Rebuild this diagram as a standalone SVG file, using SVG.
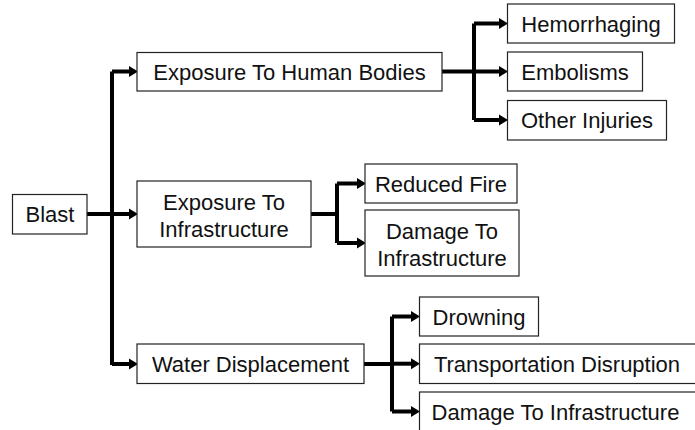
<svg xmlns="http://www.w3.org/2000/svg" width="695" height="430" viewBox="0 0 695 430">
<defs>
<marker id="ah" markerUnits="userSpaceOnUse" markerWidth="10" markerHeight="12" viewBox="0 0 10 12" refX="2" refY="6" orient="auto">
<path d="M0,0.5 L9,6 L0,11.5 z" fill="#000"/>
</marker>
<style>
.box{fill:#fff;stroke:#222;stroke-width:1.2}
.t{font-family:"Liberation Sans",Arial,sans-serif;font-size:22px;fill:#111;text-anchor:middle}
.c{fill:none;stroke:#000;stroke-width:4;stroke-linejoin:miter}
.a{marker-end:url(#ah)}
</style>
</defs>
<rect width="695" height="430" fill="#fff"/>
<g id="connectors">
<path class="c" d="M87,214 H112"/>
<path class="c" d="M112,71.5 V365"/>
<path class="c a" d="M112,71.5 H131"/>
<path class="c a" d="M112,214 H131"/>
<path class="c a" d="M112,364 H131"/>
<path class="c" d="M442,71.5 H474"/>
<path class="c" d="M474,23.5 V120"/>
<path class="c a" d="M474,23.5 H501"/>
<path class="c a" d="M474,71.5 H501"/>
<path class="c a" d="M474,120 H501"/>
<path class="c" d="M311,214 H337"/>
<path class="c" d="M337,183.5 V243"/>
<path class="c a" d="M337,183.5 H359"/>
<path class="c a" d="M337,243 H359"/>
<path class="c" d="M364,364 H392"/>
<path class="c" d="M392,316.5 V411.5"/>
<path class="c a" d="M392,316.5 H413"/>
<path class="c a" d="M392,363.7 H413"/>
<path class="c a" d="M392,411.5 H413"/>
</g>
<g id="blast"><rect class="box" x="12.5" y="194.5" width="74.5" height="39.5"/><text class="t" x="50" y="222">Blast</text></g>
<g id="human"><rect class="box" x="137" y="52.5" width="305" height="38.5"/><text class="t" x="289.5" y="79.5">Exposure To Human Bodies</text></g>
<g id="infra"><rect class="box" x="137" y="181" width="174" height="66"/><text class="t" x="224" y="210">Exposure To</text><text class="t" x="224" y="236.5">Infrastructure</text></g>
<g id="water"><rect class="box" x="137" y="344" width="227" height="39.5"/><text class="t" x="250.5" y="372">Water Displacement</text></g>
<g id="hemorrhaging"><rect class="box" x="507.5" y="4" width="167" height="39"/><text class="t" x="591" y="31.5">Hemorrhaging</text></g>
<g id="embolisms"><rect class="box" x="507.5" y="52" width="135" height="39"/><text class="t" x="575" y="79.5">Embolisms</text></g>
<g id="other"><rect class="box" x="507.5" y="100.5" width="159" height="39.5"/><text class="t" x="587" y="128">Other Injuries</text></g>
<g id="reduced"><rect class="box" x="365" y="164" width="152" height="39"/><text class="t" x="441" y="191.5">Reduced Fire</text></g>
<g id="damage1"><rect class="box" x="365" y="210" width="154" height="66"/><text class="t" x="442" y="239">Damage To</text><text class="t" x="442" y="265.5">Infrastructure</text></g>
<g id="drowning"><rect class="box" x="419.5" y="297" width="119" height="39"/><text class="t" x="479" y="324.5">Drowning</text></g>
<g id="transport"><rect class="box" x="419.5" y="344" width="280" height="39.5"/><text class="t" x="557" y="371.5">Transportation Disruption</text></g>
<g id="damage2"><rect class="box" x="419.5" y="392" width="280" height="40"/><text class="t" x="555.5" y="419.5">Damage To Infrastructure</text></g>
</svg>
